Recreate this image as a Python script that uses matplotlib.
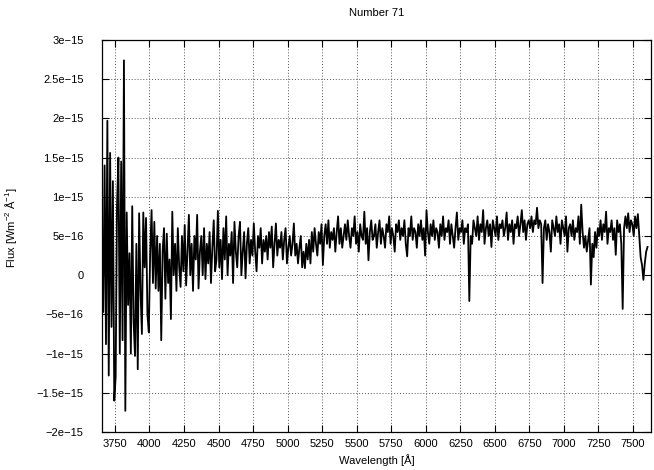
import numpy as np
import matplotlib
matplotlib.use("Agg")
import matplotlib.pyplot as plt
from matplotlib.ticker import FixedLocator, FixedFormatter

# spectrum sampled every 10 A starting at 3655 A, flux in units of 1e-16 W m^-2 A^-1
wave_start = 3655
wave_step = 10
flux_e16 = [
    7, -4.7, 14, -8.8, 19.7, -12.8, 15.6, -6.6, 12, -16,
    -13, 9, 15, -10, 14.5, -8.3, 27.4, -17.3, 8, -3.8,
    2.8, -10, 8.8, -6, -10.3, 4, -12, 7.9, -2, -7.5,
    8, 1, 7.3, -5, -7.3, 3, 8.3, -1, 6.8, -1.7,
    5, -2, 4, -8.3, 3, 6, -3, 5.3, -1, 2,
    -5.6, 8.1, 0, 4, -2, 6, 1, -1.5, 5, 0.5,
    6.4, -1.3, 3, 7.7, 0, 4, -2, 5, 2, 7.7,
    -1.7, 3, 5, 0, 6, -0.5, 4, 1.5, 5.5, -1,
    3.5, 7, 0.5, 2, 8.2, 1, 4.5, -0.5, 6, 2,
    7.5, 0, 4, 2.5, 5.5, -1, 6.8, 3, 1, 5,
    6.8, 0, 3, 5.5, -0.4, 4, 6, 1.5, 4.5, 2.5,
    6.6, 3, 0.5, 5, 3.5, 6, 1.5, 4.5, 3, 5,
    2, 5.5, 3.5, 6.2, 1, 4, 6.6, 2.5, 4.5, 3.5,
    5.5, 2, 4.5, 6, 1.5, 3.5, 5, 2.5, 4, 6.6,
    2.5, 4, 1.5, 3.5, 5, 1, 3, 0.9, 4, 2,
    4.5, 1.5, 5.5, 3, 6, 4, 2.5, 5.5, 4, 6.5,
    1.3, 5, 6.5, 4, 7, 3.5, 5.5, 4.5, 6, 3,
    5.5, 7.5, 4, 6, 3.5, 5, 6.5, 4.5, 7, 5,
    3.5, 6, 5, 7.5, 4, 5.5, 3, 6.5, 5, 4.5,
    8.1, 4, 6, 1.9, 5.5, 7, 4.5, 5, 6.5, 3.5,
    5.5, 7, 4, 6, 5, 3.5, 6.5, 5.5, 7.5, 4,
    6, 5, 3, 6.5, 5.5, 7, 4.5, 6, 5, 7,
    4, 2.4, 6, 5, 7.5, 4.5, 6, 5.5, 3.5, 6.5,
    5, 7, 4.5, 6, 2.5, 8.3, 5.5, 4, 6.5, 5,
    7, 4.5, 6, 5.5, 3.5, 6.5, 5, 7.5, 4.5, 6,
    5.5, 7, 4, 6.5, 5, 3.5, 6, 8, 4.5, 6,
    5.5, 7, 4, 6, 5.5, 6.5, -3.3, 5, 4, 7,
    6, 5, 7.5, 4.5, 6.5, 5.5, 8.3, 4, 6, 7,
    5, 6.5, 3.6, 7, 6, 5, 7.5, 4.5, 6.5, 6,
    7, 5, 6, 8, 4.5, 6.5, 5.5, 7, 4, 6.5,
    6, 7.5, 5, 6.5, 8.3, 5.5, 7, 4.5, 6.5, 7,
    6, 7.5, 5.5, 7, 6.5, 8.6, 6, 7, 6.5, -1.0,
    6, 7, 4.5, 6.5, 5.5, 3, 7, 6, 5, 7.5,
    5.5, 6.5, 4, 7, 6, 5, 7.5, 3, 6, 6.5,
    5, 7, 4.5, 6, 5.5, 7.5, 4, 9, 5.5, 3.5,
    5, 3, 4.5, 6, -1.2, 4, 2.3, 5.5, 3.5, 6,
    5, 7, 4.5, 6.5, 5.5, 8.1, 4, 6, 5.5, 7,
    4.5, 6, 2.6, 7, 5.5, 6.5, 4, -4.3, 6, 7.5,
    6, 7.9, 5.5, 7, 6.5, 5, 7.5, 6, 7.8, 5,
    2.3, 1.3, -0.6, 1.5, 3, 3.6,
]

xticks = [3750, 4000, 4250, 4500, 4750, 5000, 5250, 5500, 5750, 6000,
          6250, 6500, 6750, 7000, 7250, 7500]
yticks = [-2e-15, -1.5e-15, -1e-15, -5e-16, 0, 5e-16, 1e-15, 1.5e-15,
          2e-15, 2.5e-15, 3e-15]
ytick_labels = ["\u22122e\u221215", "\u22121.5e\u221215", "\u22121e\u221215",
                "\u22125e\u221216", "0", "5e\u221216", "1e\u221215",
                "1.5e\u221215", "2e\u221215", "2.5e\u221215", "3e\u221215"]

wavelength = wave_start + wave_step * np.arange(len(flux_e16))
flux = np.array(flux_e16) * 1e-16

plt.rcParams["font.family"] = ["Liberation Sans", "DejaVu Sans"]
plt.rcParams["mathtext.fontset"] = "custom"
plt.rcParams["mathtext.rm"] = "Liberation Sans"
plt.rcParams["mathtext.default"] = "regular"

fig = plt.figure(figsize=(6.54, 4.70), dpi=100)
ax = fig.add_axes([0.1555, 0.0809, 0.8399, 0.834])

ax.plot(wavelength, flux, color="black", linewidth=1.3)

ax.set_xlim(3654, 7630)
ax.set_ylim(-2e-15, 3e-15)
ax.xaxis.set_major_locator(FixedLocator(xticks))
ax.yaxis.set_major_locator(FixedLocator(yticks))
ax.yaxis.set_major_formatter(FixedFormatter(ytick_labels))

ax.tick_params(axis="both", direction="in", length=5, width=0.8,
               top=True, right=True, labelsize=8, colors="black")
ax.tick_params(axis="x", pad=5)
ax.tick_params(axis="y", pad=13)
ax.grid(True, color="#555555", linestyle=(0, (1, 2)), linewidth=0.7)
for sp in ax.spines.values():
    sp.set_linewidth(0.9)

ax.set_title("Number 71", fontsize=8, pad=17)
ax.set_xlabel("Wavelength [\u00c5]", fontsize=8, labelpad=4)
ax.set_ylabel("Flux [Wm$^{-2}$ \u00c5$^{-1}$]", fontsize=8)
ax.yaxis.set_label_coords(-0.15, 0.52)

fig.savefig("out.png", dpi=100)
